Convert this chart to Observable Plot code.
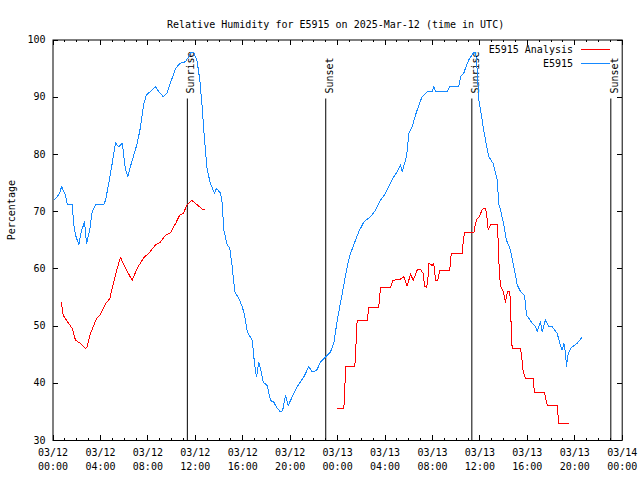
<!DOCTYPE html>
<html><head><meta charset="utf-8">
<script src="https://cdn.jsdelivr.net/npm/d3@7"></script>
<script src="https://cdn.jsdelivr.net/npm/@observablehq/plot@0.6"></script>
<style>body{margin:0;background:#fff}</style>
</head><body><div id="chart"></div>
<script>
const title = "Relative Humidity for E5915 on 2025-Mar-12 (time in UTC)";
const yLabel = "Percentage";
const seriesNames = ["E5915 Analysis", "E5915"];
const seriesColors = ["#ff0000", "#1589ff"];
const startUTC = Date.UTC(2025, 2, 12, 0, 0);
const spanHours = 48;

// Observed RH (E5915): hours since 03/12 00:00 UTC, percentage
const obsHours = [0.15,0.57,0.72,1.05,1.2,1.62,1.75,1.9,2.18,2.38,2.66,2.83,3.1,3.3,3.58,4.28,4.43,4.7,4.99,5.27,5.55,5.84,6.11,6.31,6.6,7.1,7.38,7.66,7.88,8.22,8.64,8.92,9.29,9.63,9.99,10.33,10.69,11.17,11.45,11.65,11.87,12.16,12.38,12.58,12.78,13.0,13.28,13.62,13.79,14.13,14.27,14.4,14.69,14.91,15.11,15.33,15.67,15.96,16.15,16.38,16.8,16.99,17.16,17.36,17.5,17.73,18.06,18.34,18.62,18.91,19.19,19.36,19.61,19.83,20.17,20.59,21.15,21.57,21.86,22.22,22.56,22.98,23.4,23.68,23.97,24.39,24.81,25.09,25.51,25.79,26.21,26.78,27.2,27.62,28.04,28.32,28.74,29.03,29.3,29.45,29.81,30.01,30.29,30.57,30.85,31.13,31.56,31.98,32.11,32.26,33.24,33.46,34.22,34.37,34.64,34.87,35.06,35.35,35.49,35.63,35.77,35.91,36.05,36.28,36.47,36.75,37.12,37.46,37.6,37.74,38.02,38.24,38.58,38.86,39.15,39.43,39.76,39.93,40.12,40.41,40.69,40.83,41.11,41.25,41.53,41.81,42.1,42.52,42.74,42.94,43.08,43.22,43.3,43.41,43.64,44.21,44.63];
const obsValues = [72.1,73.2,74.4,72.9,71.3,71.3,67.7,65.9,64.2,66.5,68.2,64.4,66.8,70.0,71.2,71.2,72.0,74.9,78.4,82.0,81.3,82.0,77.3,76.2,78.4,81.9,84.8,88.9,90.4,91.0,91.8,91.0,90.1,90.8,93.0,95.0,95.9,96.2,97.1,97.9,97.9,96.2,93.0,88.3,82.5,77.3,74.9,73.2,74.1,73.2,71.4,66.8,64.2,63.6,60.4,56.0,54.8,53.4,51.9,49.0,47.5,43.5,41.1,43.7,42.5,40.2,39.6,37.0,36.7,35.6,35.0,35.2,37.9,36.1,37.6,39.4,41.1,42.9,42.0,42.2,43.7,44.6,45.5,47.0,51.0,55.7,60.4,62.7,65.0,66.5,68.2,69.1,70.3,72.0,73.2,74.4,76.1,77.0,78.2,77.0,79.6,83.7,84.8,86.9,88.6,90.1,91.0,91.0,91.9,91.0,91.0,91.9,91.9,93.6,94.2,95.6,96.5,97.4,97.9,97.9,94.8,89.5,87.8,84.8,82.5,79.6,78.4,75.5,71.2,70.3,67.7,65.0,63.3,60.4,57.2,56.0,55.4,51.9,51.4,50.5,49.9,49.0,50.8,49.0,51.1,49.9,49.9,48.7,47.0,45.8,47.0,45.2,42.9,44.9,46.1,47.0,48.1];

// Analysis RH (E5915 Analysis); null marks the gap between the two runs
const anaHours = [0.69,0.86,1.2,1.62,1.9,2.32,2.74,2.88,3.16,3.67,3.95,4.43,4.79,5.08,5.36,5.69,6.11,6.68,7.1,7.66,8.08,8.64,9.07,9.49,9.91,10.33,10.69,10.98,11.32,11.68,12.16,12.67,12.8,18.0,24.02,24.52,24.58,24.67,25.45,25.51,25.65,26.5,26.63,27.47,27.62,28.46,28.66,29.3,29.58,29.87,30.15,30.38,30.71,30.99,31.22,31.33,31.5,31.61,31.69,31.98,32.11,32.26,32.45,32.62,33.46,33.58,34.51,34.6,34.7,35.49,35.63,35.77,35.96,36.19,36.47,36.56,36.7,36.89,37.03,37.46,37.54,37.63,37.74,37.97,38.16,38.24,38.35,38.52,38.58,38.66,38.72,39.43,39.51,39.65,39.85,40.49,40.6,41.45,41.53,41.68,42.52,42.65,43.5];
const anaValues = [54.2,51.9,50.8,49.6,47.5,47.0,46.1,46.4,48.7,51.3,51.9,53.9,54.8,57.4,59.7,62.0,60.1,58.0,60.1,62.0,62.7,64.2,64.7,65.9,66.3,67.9,69.4,69.7,71.2,72.0,71.2,70.3,70.3,null,35.6,35.6,37.3,42.9,42.9,45.0,51.0,51.0,53.3,53.3,56.8,56.8,58.0,58.2,58.6,57.0,59.1,58.0,59.8,59.9,59.2,57.0,56.8,58.0,61.0,60.6,60.9,58.0,58.0,59.8,59.8,62.6,62.6,65.0,66.3,66.3,67.9,68.8,69.1,70.4,70.6,69.7,66.8,67.7,67.8,67.8,65.0,59.8,57.0,56.0,54.1,55.4,56.0,56.0,53.4,48.7,46.1,46.1,44.9,42.0,40.8,40.8,38.4,38.4,37.6,36.1,36.1,33.0,33.0];

// Sun events
const sunNames = ["Sunrise", "Sunset", "Sunrise", "Sunset"];
const sunHours = [11.33, 23.0, 35.32, 47.04];

const yTicks = [30, 40, 50, 60, 70, 80, 90, 100];
const xMajorEvery = 4;

const W = 640, H = 480, mL = 52.5, mR = 18.3, mT = 39.5, mB = 40;
const frameW = W - mL - mR, frameH = H - mT - mB;
const majorLen = 5, minorLen = 2.5;

const toDate = h => new Date(startUTC + h * 3600e3);
const obs = obsHours.map((h, i) => ({t: toDate(h), v: obsValues[i]}));
const ana = anaHours.map((h, i) => ({t: toDate(h), v: anaValues[i]}));
const sun = sunHours.map((h, i) => ({t: toDate(h), name: sunNames[i]}));
const majorDates = d3.range(0, spanHours + 1, xMajorEvery).map(toDate);
const minorDates = d3.range(0, spanHours + 1, 1).map(toDate);
const fmt = d3.utcFormat("%m/%d\n%H:%M");
const font = "'DejaVu Sans Mono', 'Liberation Mono', monospace";
const tick = {stroke: "black", strokeWidth: 1, shapeRendering: "crispEdges"};

const chart = Plot.plot({
  width: W, height: H,
  marginLeft: mL, marginRight: mR, marginTop: mT, marginBottom: mB,
  style: {fontFamily: font, fontSize: "10px", background: "white", color: "black"},
  x: {type: "utc", domain: [toDate(0), toDate(spanHours)]},
  y: {domain: [30, 100]},
  marks: [
    Plot.axisX(majorDates, {anchor: "bottom", tickSize: 0, tickPadding: 6, tickFormat: fmt, lineHeight: 1.4, label: null}),
    Plot.axisY(yTicks, {anchor: "left", tickSize: 0, tickPadding: 7.5, label: null}),
    // inward ticks on all four sides (gnuplot style)
    Plot.ruleX(minorDates, {x: d => d, insetTop: frameH - minorLen, ...tick}),
    Plot.ruleX(minorDates, {x: d => d, insetBottom: frameH - minorLen, ...tick}),
    Plot.ruleX(majorDates, {x: d => d, insetTop: frameH - majorLen, ...tick}),
    Plot.ruleX(majorDates, {x: d => d, insetBottom: frameH - majorLen, ...tick}),
    Plot.ruleY(yTicks, {y: d => d, insetRight: frameW - majorLen, ...tick}),
    Plot.ruleY(yTicks, {y: d => d, insetLeft: frameW - majorLen, ...tick}),
    Plot.text([title], {frameAnchor: "top", dy: -19, dx: -2}),
    Plot.text([yLabel], {frameAnchor: "left", rotate: -90, dx: -41}),
    Plot.ruleX(sun, {x: "t", insetTop: 59, stroke: "black", strokeWidth: 1}),
    Plot.text(sun, {x: "t", text: "name", frameAnchor: "top", dy: 53.5, dx: 0, rotate: -90, textAnchor: "start"}),
    Plot.line(ana, {x: "t", y: "v", stroke: seriesColors[0], strokeWidth: 1, shapeRendering: "crispEdges"}),
    Plot.line(obs, {x: "t", y: "v", stroke: seriesColors[1], strokeWidth: 1, shapeRendering: "crispEdges"}),
    Plot.frame({stroke: "black", strokeWidth: 1})
  ]
});
document.getElementById("chart").appendChild(chart);

// Legend (top-right, inside the frame)
const svg = d3.select(chart);
const leg = svg.append("g").attr("font-family", font).attr("font-size", "10px");
seriesNames.forEach((name, i) => {
  const y = 49 + 14 * i;
  leg.append("text").attr("x", 573).attr("y", y).attr("dy", "0.35em")
    .attr("text-anchor", "end").attr("fill", "black").text(name);
  leg.append("line").attr("x1", 581).attr("x2", 610).attr("y1", y + 0.5).attr("y2", y + 0.5)
    .attr("stroke", seriesColors[i]).attr("stroke-width", 1);
});
</script>
</body></html>
